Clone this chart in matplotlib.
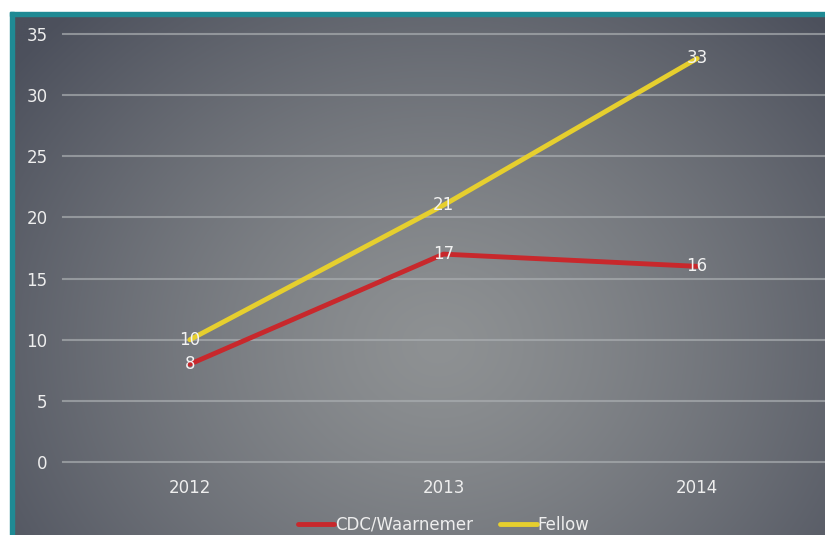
import numpy as np
import matplotlib.pyplot as plt
from matplotlib.patches import Rectangle

years = ['2012', '2013', '2014']
cdc = [8, 17, 16]
fellow = [10, 21, 33]

W, H = 825, 535
fig = plt.figure(figsize=(W / 100, H / 100), dpi=100)
fig.patch.set_facecolor('white')

# radial gray background (slide style)
bg = fig.add_axes([10 / W, 0, (W - 10) / W, (H - 12) / H])
bg.set_axis_off()
yy, xx = np.mgrid[0:260, 0:410]
r = np.sqrt(((xx - 215) / 270.0) ** 2 + ((yy - 165) / 230.0) ** 2)
r = np.clip(r, 0, 1) ** 1.3
c_in = np.array([142, 145, 147]) / 255
c_out = np.array([76, 80, 92]) / 255
img = c_in[None, None, :] * (1 - r[..., None]) + c_out[None, None, :] * r[..., None]
bg.imshow(img, aspect='auto', interpolation='bicubic')

# teal frame on left and top
fig.patches.append(Rectangle((10 / W, 0), 4 / W, (H - 12) / H, transform=fig.transFigure,
                             color='#1f8a94', zorder=5))
fig.patches.append(Rectangle((10 / W, (H - 16) / H), (W - 10) / W, 4 / H, transform=fig.transFigure,
                             color='#1f8a94', zorder=5))

ax = fig.add_axes([63 / W, (H - 462) / H, (824 - 63) / W, (462 - 34) / H])
ax.patch.set_alpha(0)
x = np.arange(len(years))
ax.plot(x, cdc, color='#c8282c', lw=3.5, solid_capstyle='round', label='CDC/Waarnemer', zorder=3)
ax.plot(x, fellow, color='#e6cf2e', lw=3.5, solid_capstyle='round', label='Fellow', zorder=3)
for xi, v in zip(x, cdc):
    ax.text(xi, v, str(v), color='#f2f2f2', fontsize=12, ha='center', va='center', zorder=4)
for xi, v in zip(x, fellow):
    ax.text(xi, v, str(v), color='#f2f2f2', fontsize=12, ha='center', va='center', zorder=4)

ax.set_xlim(-0.5, 2.5)
ax.set_ylim(0, 35)
ax.set_yticks(range(0, 36, 5))
ax.set_xticks(x)
ax.set_xticklabels(years)
ax.grid(axis='y', color='#a9adb0', lw=1.5, alpha=0.7)
for gl in ax.get_ygridlines():
    gl.set_clip_on(False)
ax.set_axisbelow(True)
for s in ax.spines.values():
    s.set_visible(False)
ax.tick_params(length=0, colors='#eeeeee', labelsize=12)
ax.tick_params(axis='y', pad=11)
ax.tick_params(axis='x', pad=12)

ax.legend(loc='upper center', bbox_to_anchor=(0.5, -0.09), ncol=2, frameon=False,
          fontsize=12, labelcolor='#eeeeee', handlelength=2.2, handletextpad=0.05,
          columnspacing=1.6)

fig.savefig('out.png', dpi=100)
